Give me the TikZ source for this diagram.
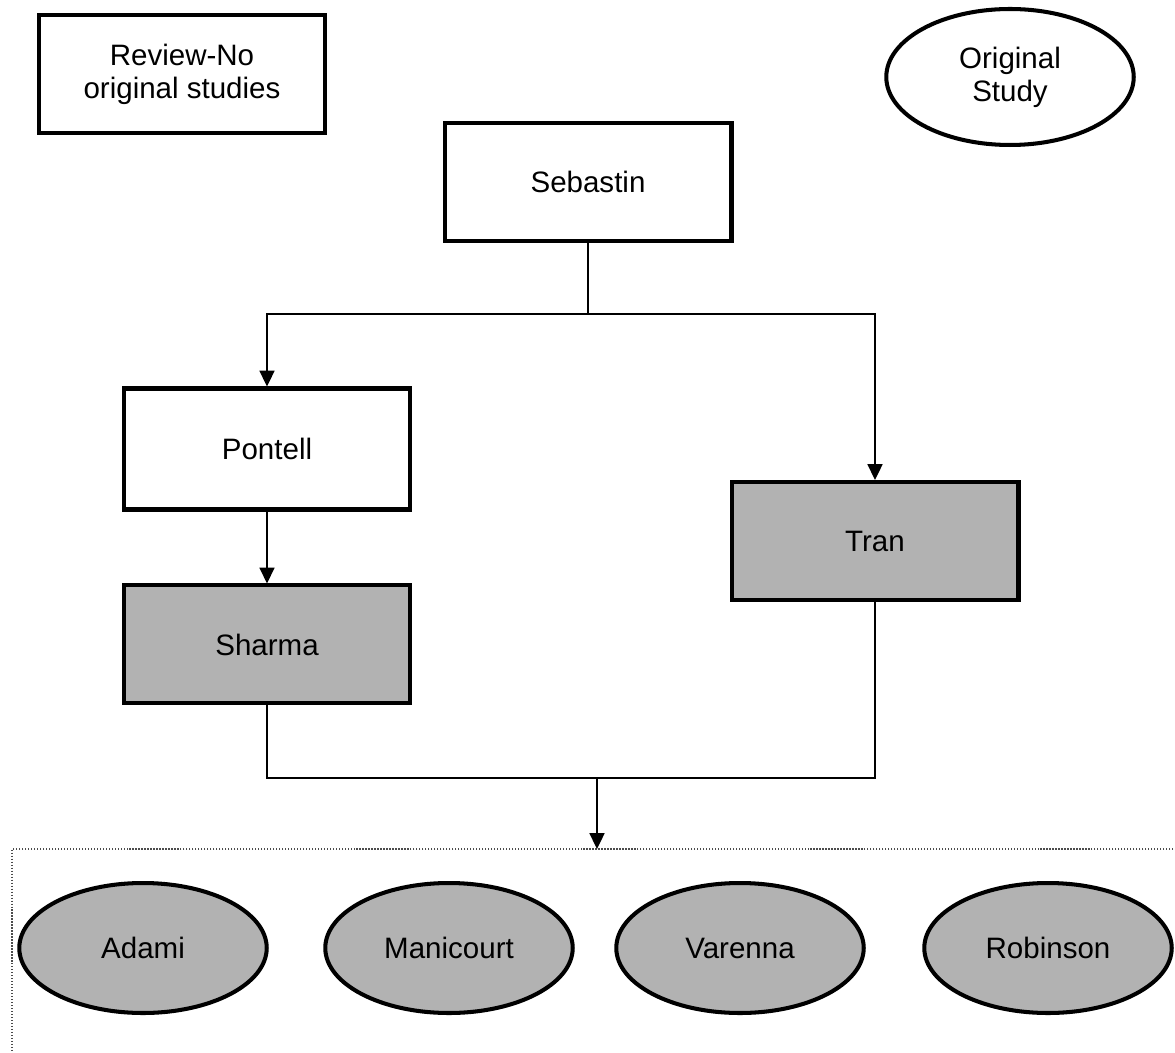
\documentclass[tikz,border=0pt]{standalone}
\usepackage{fontspec}
\setmainfont{Liberation Sans}
\usetikzlibrary{shapes.geometric,arrows.meta,positioning}
\tikzstyle{paper} = [rectangle, draw, line width=2.3pt, align=center,
                     minimum width=5.74cm, minimum height=2.36cm,
                     font=\fontsize{16.8}{18.8}\selectfont]
\tikzstyle{study} = [ellipse, draw, line width=2.3pt, align=center,
                     minimum width=4.95cm, minimum height=2.6cm, inner sep=0pt,
                     font=\fontsize{16.8}{18.8}\selectfont]
\tikzstyle{shaded} = [fill=black!30]
\tikzstyle{arrow} = [-{Triangle[length=9pt,width=8.5pt]}, line width=1.1pt]
\tikzstyle{link} = [line width=1.1pt]
\tikzstyle{groupline} = [densely dotted, line width=0.7pt, black!70]

\begin{document}
\begin{tikzpicture}[x=0.02cm, y=-0.02cm, node distance=3.91cm]
    \useasboundingbox (0,0) rectangle (1175,1053);

    % legend
    \node [paper] (review) at (182,74) {Review-No\\original studies};
    \node [study, minimum width=4.95cm, minimum height=2.72cm] (orig) at (1010,77) {Original\\Study};

    % reviews
    \node [paper] (sebastin) at (588,182) {Sebastin};
    \node [paper, minimum height=2.42cm] (pontell) at (267,449) {Pontell};
    \node [paper, shaded, below of=pontell] (sharma) {Sharma};
    \node [paper, shaded] (tran) at (875,541) {Tran};

    % original studies
    \node [study, shaded] (adami)     at (143,948)  {Adami};
    \node [study, shaded] (manicourt) at (449,948)  {Manicourt};
    \node [study, shaded] (varenna)   at (740,948)  {Varenna};
    \node [study, shaded] (robinson)  at (1048,948) {Robinson};

    \coordinate (split) at (588,314);
    \coordinate (merge) at (597,778);
    \coordinate (grouptop) at (597,849);
    \draw [groupline] (1200,849) -- (12,849) -- (12,1070);

    \draw [link] (sebastin.south) -- (split);
    \draw [arrow] (split) -| (pontell.north);
    \draw [arrow] (split) -| (tran.north);
    \draw [arrow] (pontell) -- (sharma);
    \draw [link] (sharma.south) |- (merge);
    \draw [link] (tran.south) |- (merge);
    \draw [arrow] (merge) -- (grouptop);
\end{tikzpicture}
\end{document}
